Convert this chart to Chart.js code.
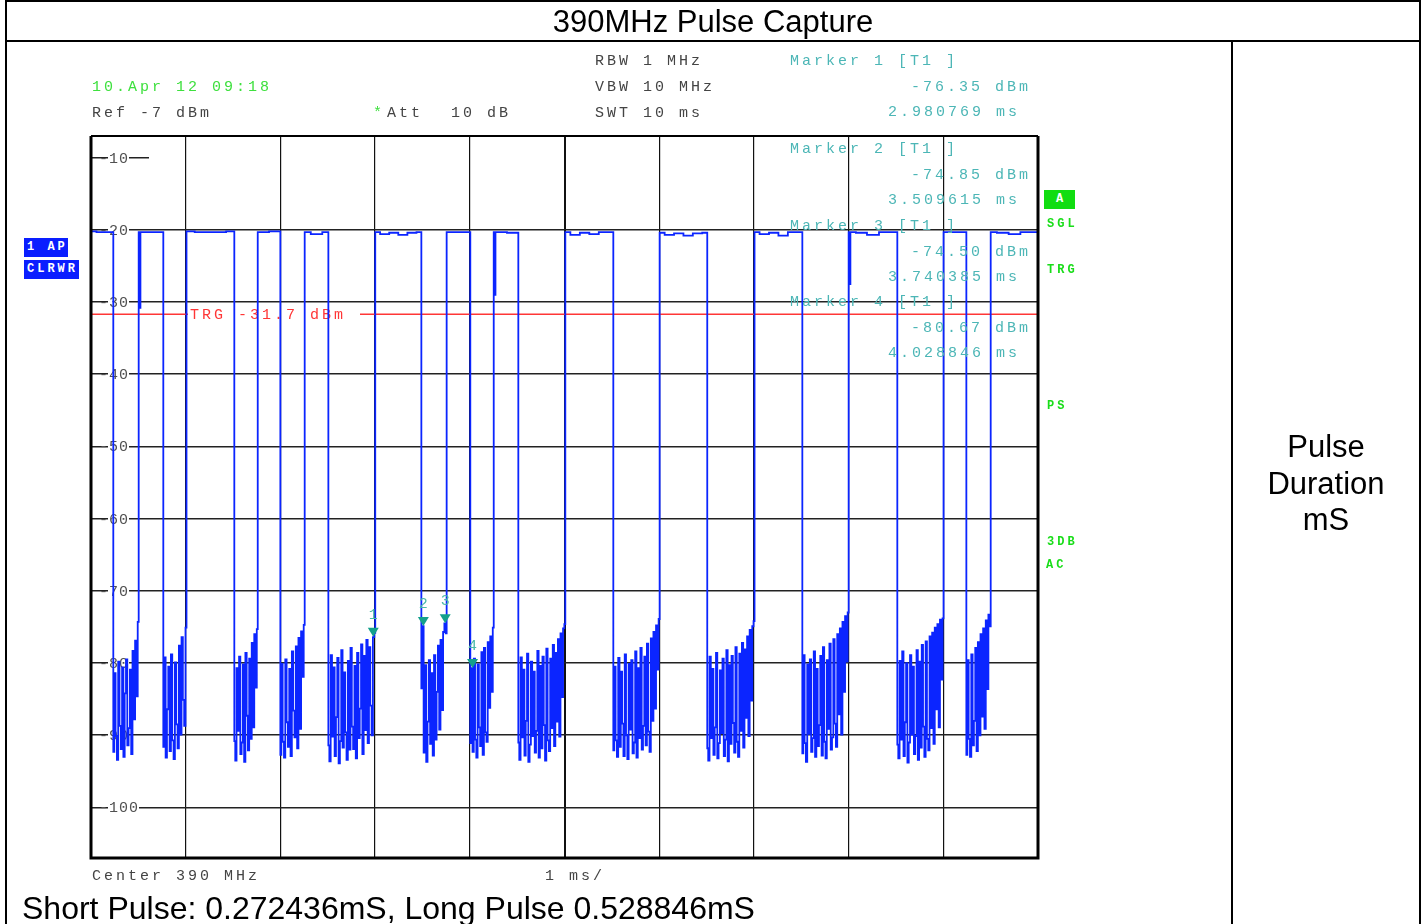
<!DOCTYPE html>
<html>
<head>
<meta charset="utf-8">
<title>390MHz Pulse Capture</title>
<script src="https://cdn.jsdelivr.net/npm/chart.js@4.4.1/dist/chart.umd.min.js"></script>
<style>
  html, body { margin: 0; padding: 0; background: #fff; }
  #page { position: relative; width: 1424px; height: 924px; overflow: hidden; font-family: "Liberation Sans", Arial, sans-serif; }
  .rule { position: absolute; background: #000; z-index: 3; }
  #chart { position: absolute; left: 0; top: 0; z-index: 1; }
  .big { position: absolute; font-size: 31px; color: #000; white-space: nowrap; z-index: 2; }
  .mono { position: absolute; font-family: "Liberation Mono", monospace; font-size: 15px; line-height: 16px; letter-spacing: 3px; white-space: pre; color: #444; z-index: 2; }
  .green { color: #3ee03e; }
  .teal { color: #4cb6b6; }
  .flag { position: absolute; font-family: "Liberation Mono", monospace; font-weight: bold; font-size: 12px; line-height: 14px; letter-spacing: 3px; color: #19dd19; white-space: pre; z-index: 2; }
  .badge { background: #0a1eff; color: #fff; overflow: hidden; padding-left: 3px; box-sizing: border-box; }
</style>
</head>
<body>
<div id="page">
  <!-- cadre du tableau -->
  <div class="rule" style="left:5px;top:0;width:1416px;height:2px"></div>
  <div class="rule" style="left:5px;top:40px;width:1416px;height:2px"></div>
  <div class="rule" style="left:5px;top:0;width:2px;height:924px"></div>
  <div class="rule" style="left:1419px;top:0;width:2px;height:924px"></div>
  <div class="rule" style="left:1231px;top:40px;width:2px;height:884px"></div>

  <div class="big" style="left:5px;width:1416px;top:5px;line-height:34px;text-align:center">390MHz Pulse Capture</div>
  <div class="big" style="left:1233px;width:186px;top:429px;line-height:36.5px;text-align:center;white-space:normal">Pulse<br>Duration<br>mS</div>
  <div class="big" style="left:22px;top:891px;line-height:34px;font-size:32px">Short Pulse: 0.272436mS, Long Pulse 0.528846mS</div>

  <canvas id="chart" width="1424" height="924"></canvas>

  <!-- textes de l'analyseur -->
  <div class="mono green" style="left:92px;top:80px">10.Apr 12 09:18</div>
  <div class="mono" style="left:92px;top:106px">Ref -7 dBm</div>
  <div class="mono green" style="left:373px;top:106px">*</div>
  <div class="mono" style="left:387px;top:106px">Att</div>
  <div class="mono" style="left:451px;top:106px">10 dB</div>
  <div class="mono" style="left:595px;top:54px">RBW 1 MHz</div>
  <div class="mono" style="left:595px;top:80px">VBW 10 MHz</div>
  <div class="mono" style="left:595px;top:106px">SWT 10 ms</div>
  <div class="mono" style="left:92px;top:869px">Center 390 MHz</div>
  <div class="mono" style="left:545px;top:869px">1 ms/</div>
  <div id="markerText"></div>

  <div class="flag badge" style="left:24px;top:238px;width:44px;height:19px;line-height:19px">1 AP</div>
  <div class="flag badge" style="left:24px;top:260px;width:55px;height:19px;line-height:19px">CLRWR</div>
  <div class="flag" style="left:1044px;top:190px;width:31px;height:19px;line-height:19px;background:#11dd11;color:#fff;text-align:center;letter-spacing:0">A</div>
  <div class="flag" style="left:1047px;top:217px">SGL</div>
  <div class="flag" style="left:1047px;top:263px">TRG</div>
  <div class="flag" style="left:1047px;top:399px">PS</div>
  <div class="flag" style="left:1047px;top:535px">3DB</div>
  <div class="flag" style="left:1046px;top:558px">AC</div>
</div>

<script>
  const pulseRiseMs = [0, 0.507, 1.012, 1.764, 2.260, 3.005, 3.759, 4.256, 5.012, 6.008, 7.010, 8.004, 9.006, 9.504];
  const pulseFallMs = [0.232, 0.760, 1.510, 1.996, 2.503, 3.485, 4.002, 4.509, 5.512, 6.504, 7.508, 8.511, 9.240, 10];

  const pulseTopDbm = [
    [-20.2, -20.3, -20.3],
    [-20.3, -20.3],
    [-20.2, -20.3, -20.3, -20.2],
    [-20.3, -20.2],
    [-20.3, -20.6, -20.3],
    [-20.3, -20.6, -20.4, -20.7, -20.4, -20.3],
    [-20.3, -20.3],
    [-20.3, -20.4],
    [-20.3, -20.7, -20.4, -20.6, -20.3, -20.3],
    [-20.4, -20.7, -20.5, -20.8, -20.5, -20.4],
    [-20.3, -20.6, -20.4, -20.8, -20.3, -20.3],
    [-20.3, -20.4, -20.7, -20.3, -20.3],
    [-20.3, -20.3],
    [-20.3, -20.4, -20.6, -20.3, -20.3]
  ];
  const riseGlitchDbm = [null, -30.8, null, null, null, null, null, -29.0, null, null, null, -27.5, null, null];

  // bruit entre les impulsions
  const gapNoiseDbm = [
    [-92.3, -81.4, -90.1, -93.4, -79.8, -88.7, -91.9, -80.6, -93.0, -84.2, -79.5, -91.4, -89.0, -80.9, -92.6, -78.3, -87.8, -76.9, -84.6, -74.3],
    [-91.6, -79.2, -93.1, -86.4, -80.5, -92.2, -78.8, -90.7, -93.3, -79.9, -88.5, -91.8, -77.6, -89.9, -76.4, -85.1, -88.7, -75.1],
    [-90.8, -93.5, -80.7, -89.4, -79.1, -92.6, -91.0, -80.2, -93.7, -78.6, -87.3, -92.1, -79.4, -90.5, -77.2, -88.9, -76.0, -83.4, -75.3],
    [-92.7, -80.1, -90.9, -93.1, -79.5, -88.2, -91.6, -80.8, -92.9, -78.4, -86.6, -90.3, -77.7, -91.8, -76.5, -89.1, -75.6, -81.9, -74.7],
    [-91.4, -93.6, -78.9, -90.2, -80.6, -92.9, -87.5, -79.3, -93.9, -90.8, -78.2, -91.7, -81.3, -89.6, -93.4, -79.7, -92.0, -77.9, -88.8, -91.9, -80.4, -93.2, -78.6, -90.4, -86.3, -77.4, -92.6, -79.0, -89.3, -76.8, -91.1, -77.8, -85.9, -90.0, -76.4, -75.8],
    [-83.5, -74.9, -92.4, -80.3, -93.7, -88.1, -79.6, -91.2, -81.4, -92.8, -78.9, -90.6, -84.0, -77.6, -89.2, -76.8, -86.5, -75.7, -74.5, -75.9],
    [-91.1, -80.7, -92.3, -79.4, -90.6, -93.1, -80.2, -88.9, -91.5, -78.5, -92.7, -77.9, -89.6, -90.9, -77.1, -86.2, -76.3, -84.0, -75.1],
    [-91.0, -93.4, -79.2, -90.3, -80.9, -92.8, -88.0, -78.7, -93.7, -91.3, -79.8, -90.1, -81.2, -92.4, -89.4, -78.3, -93.1, -80.4, -91.8, -79.1, -88.6, -93.5, -78.0, -90.7, -92.2, -79.4, -89.0, -77.5, -91.5, -78.6, -88.1, -76.7, -90.2, -75.9, -84.7, -75.2, -74.6],
    [-92.1, -80.5, -90.7, -93.0, -79.3, -91.6, -81.2, -88.4, -92.9, -78.8, -90.0, -93.3, -80.1, -89.2, -79.6, -92.5, -91.0, -78.4, -93.1, -80.7, -90.4, -77.9, -92.0, -88.7, -79.1, -91.4, -77.3, -89.5, -92.3, -76.6, -88.0, -75.7, -86.3, -74.8, -80.9, -73.9],
    [-91.8, -93.5, -79.1, -90.4, -80.8, -92.7, -88.9, -78.6, -93.2, -91.1, -81.0, -89.7, -79.4, -92.9, -90.6, -78.2, -93.6, -80.3, -91.2, -79.0, -88.3, -92.4, -77.8, -90.9, -93.0, -78.7, -89.4, -77.2, -91.7, -78.1, -87.6, -76.3, -90.1, -75.4, -85.2, -74.9, -74.2],
    [-92.5, -78.9, -91.1, -93.7, -80.2, -89.8, -79.5, -92.3, -90.4, -78.4, -93.0, -80.8, -91.5, -88.6, -79.0, -92.8, -77.8, -90.9, -93.2, -79.6, -89.1, -77.3, -92.0, -90.3, -76.7, -88.4, -91.6, -76.0, -87.1, -75.2, -89.9, -74.3, -84.0, -73.5, -79.8, -73.0],
    [-91.3, -93.2, -79.7, -90.6, -78.4, -92.9, -88.2, -80.0, -93.8, -91.0, -78.9, -89.9, -80.5, -92.6, -90.1, -78.2, -93.4, -79.8, -91.7, -77.5, -88.8, -93.0, -77.0, -90.5, -92.1, -76.3, -89.0, -75.8, -91.2, -75.1, -86.4, -74.6, -88.9, -74.0, -82.3, -73.8],
    [-92.7, -79.6, -90.5, -93.0, -78.8, -91.4, -88.0, -77.9, -92.2, -77.1, -90.0, -76.0, -87.4, -75.2, -89.1, -74.1, -83.6, -73.3, -74.9]
  ];

  const markerTimeMs = [2.980769, 3.509615, 3.740385, 4.028846];
  const markerLevelDbm = [-76.35, -74.85, -74.50, -80.67];
  const trgLevelDbm = -31.7;

  const xGridMs = [1, 2, 3, 4, 5, 6, 7, 8, 9];
  const yGridDbm = [-20, -30, -40, -50, -60, -70, -80, -90, -100];
  const yLabelDbm = [-10, -20, -30, -40, -50, -60, -70, -80, -90, -100];

  // construction de la trace
  const trace = [];
  pulseRiseMs.forEach((rise, i) => {
    const fall = pulseFallMs[i];
    const top = pulseTopDbm[i];
    trace.push({ x: rise, y: top[0] });
    if (riseGlitchDbm[i] !== null) {
      trace.push({ x: rise + 0.01, y: riseGlitchDbm[i] });
      trace.push({ x: rise + 0.02, y: top[0] });
    }
    for (let j = 1; j < top.length; j++) {
      trace.push({ x: rise + j * (fall - rise) / (top.length - 1), y: top[j] });
    }
    const noise = gapNoiseDbm[i];
    if (noise) {
      const next = pulseRiseMs[i + 1];
      const step = (next - fall) / noise.length;
      noise.forEach((v, k) => trace.push({ x: fall + (k + 0.5) * step, y: v }));
    }
  });

  // textes des marqueurs
  const markerTop = [54, 142, 219, 295];
  let html = '';
  markerTimeMs.forEach((t, i) => {
    const base = markerTop[i];
    html += `<div class="mono teal" style="left:790px;top:${base}px">Marker ${i + 1} [T1 ]</div>`;
    html += `<div class="mono teal" style="left:911px;top:${base + 26}px">${markerLevelDbm[i].toFixed(2)} dBm</div>`;
    html += `<div class="mono teal" style="left:888px;top:${base + 51}px">${t.toFixed(6)} ms</div>`;
  });
  document.getElementById('markerText').innerHTML = html;

  const decor = {
    id: 'decor',
    beforeDatasetsDraw(chart) {
      const { ctx, chartArea: a, scales: { x, y } } = chart;
      ctx.save();
      // petit trait du -10
      const y10 = y.getPixelForValue(-10);
      ctx.strokeStyle = '#222';
      ctx.lineWidth = 1.5;
      ctx.beginPath();
      ctx.moveTo(a.left, y10);
      ctx.lineTo(a.left + 58, y10);
      ctx.stroke();

      // graduations
      ctx.font = '15px "Liberation Mono", monospace';
      ctx.letterSpacing = '1px';
      ctx.textBaseline = 'middle';
      yLabelDbm.forEach(v => {
        const py = y.getPixelForValue(v);
        const txt = String(v);
        const w = ctx.measureText(txt).width;
        ctx.fillStyle = '#fff';
        ctx.fillRect(a.left + 17, py - 6, w - 9, 12);
        ctx.fillStyle = '#505050';
        ctx.fillText(txt, a.left + 8, py + 1);
      });

      // ligne de déclenchement
      const ty = y.getPixelForValue(trgLevelDbm);
      ctx.strokeStyle = '#ff3636';
      ctx.lineWidth = 1.5;
      ctx.beginPath();
      ctx.moveTo(a.left, ty);
      ctx.lineTo(a.left + 97, ty);
      ctx.moveTo(a.left + 269, ty);
      ctx.lineTo(a.right, ty);
      ctx.stroke();
      ctx.font = '15px "Liberation Mono", monospace';
      ctx.letterSpacing = '3px';
      ctx.fillStyle = '#ff3636';
      ctx.fillText('TRG ' + trgLevelDbm + ' dBm', a.left + 99, ty + 1);
      ctx.restore();
    },
    afterDatasetsDraw(chart) {
      const { ctx, chartArea: a, scales: { x, y } } = chart;
      ctx.save();
      // cadre
      ctx.strokeStyle = '#000';
      ctx.lineWidth = 3;
      ctx.beginPath();
      ctx.moveTo(a.left, a.top);
      ctx.lineTo(a.left, a.bottom);
      ctx.lineTo(a.right, a.bottom);
      ctx.lineTo(a.right, a.top);
      ctx.stroke();
      ctx.lineWidth = 2;
      ctx.beginPath();
      ctx.moveTo(a.left, a.top);
      ctx.lineTo(a.right, a.top);
      ctx.stroke();

      // marqueurs
      ctx.font = '15px "Liberation Mono", monospace';
      ctx.textAlign = 'center';
      ctx.textBaseline = 'middle';
      markerTimeMs.forEach((t, i) => {
        const px = x.getPixelForValue(t);
        const py = y.getPixelForValue(markerLevelDbm[i]);
        ctx.fillStyle = '#14a08c';
        ctx.beginPath();
        ctx.moveTo(px - 5.5, py - 9);
        ctx.lineTo(px + 5.5, py - 9);
        ctx.lineTo(px, py);
        ctx.closePath();
        ctx.fill();
        ctx.fillStyle = '#4ab9a9';
        ctx.fillText(String(i + 1), px, py - 22);
      });
      ctx.restore();
    }
  };

  new Chart(document.getElementById('chart'), {
    type: 'line',
    data: {
      datasets: [{
        data: trace,
        borderColor: '#0b25ff',
        borderWidth: 1.8,
        pointRadius: 0,
        stepped: 'middle',
        fill: false
      }]
    },
    options: {
      responsive: false,
      animation: false,
      devicePixelRatio: 1,
      layout: { padding: { left: 91, top: 136, right: 386, bottom: 66 } },
      plugins: { legend: { display: false }, tooltip: { enabled: false } },
      scales: {
        x: {
          type: 'linear', min: 0, max: 10,
          afterBuildTicks: s => { s.ticks = xGridMs.map(v => ({ value: v })); },
          ticks: { display: false },
          grid: { drawTicks: false, color: '#111', lineWidth: c => (c.tick && c.tick.value === 5 ? 2 : 1.2) },
          border: { display: false }
        },
        y: {
          type: 'linear', min: -107, max: -7,
          afterBuildTicks: s => { s.ticks = yGridDbm.map(v => ({ value: v })); },
          ticks: { display: false },
          grid: { drawTicks: false, color: '#222', lineWidth: 1.6 },
          border: { display: false }
        }
      }
    },
    plugins: [decor]
  });
</script>
</body>
</html>
